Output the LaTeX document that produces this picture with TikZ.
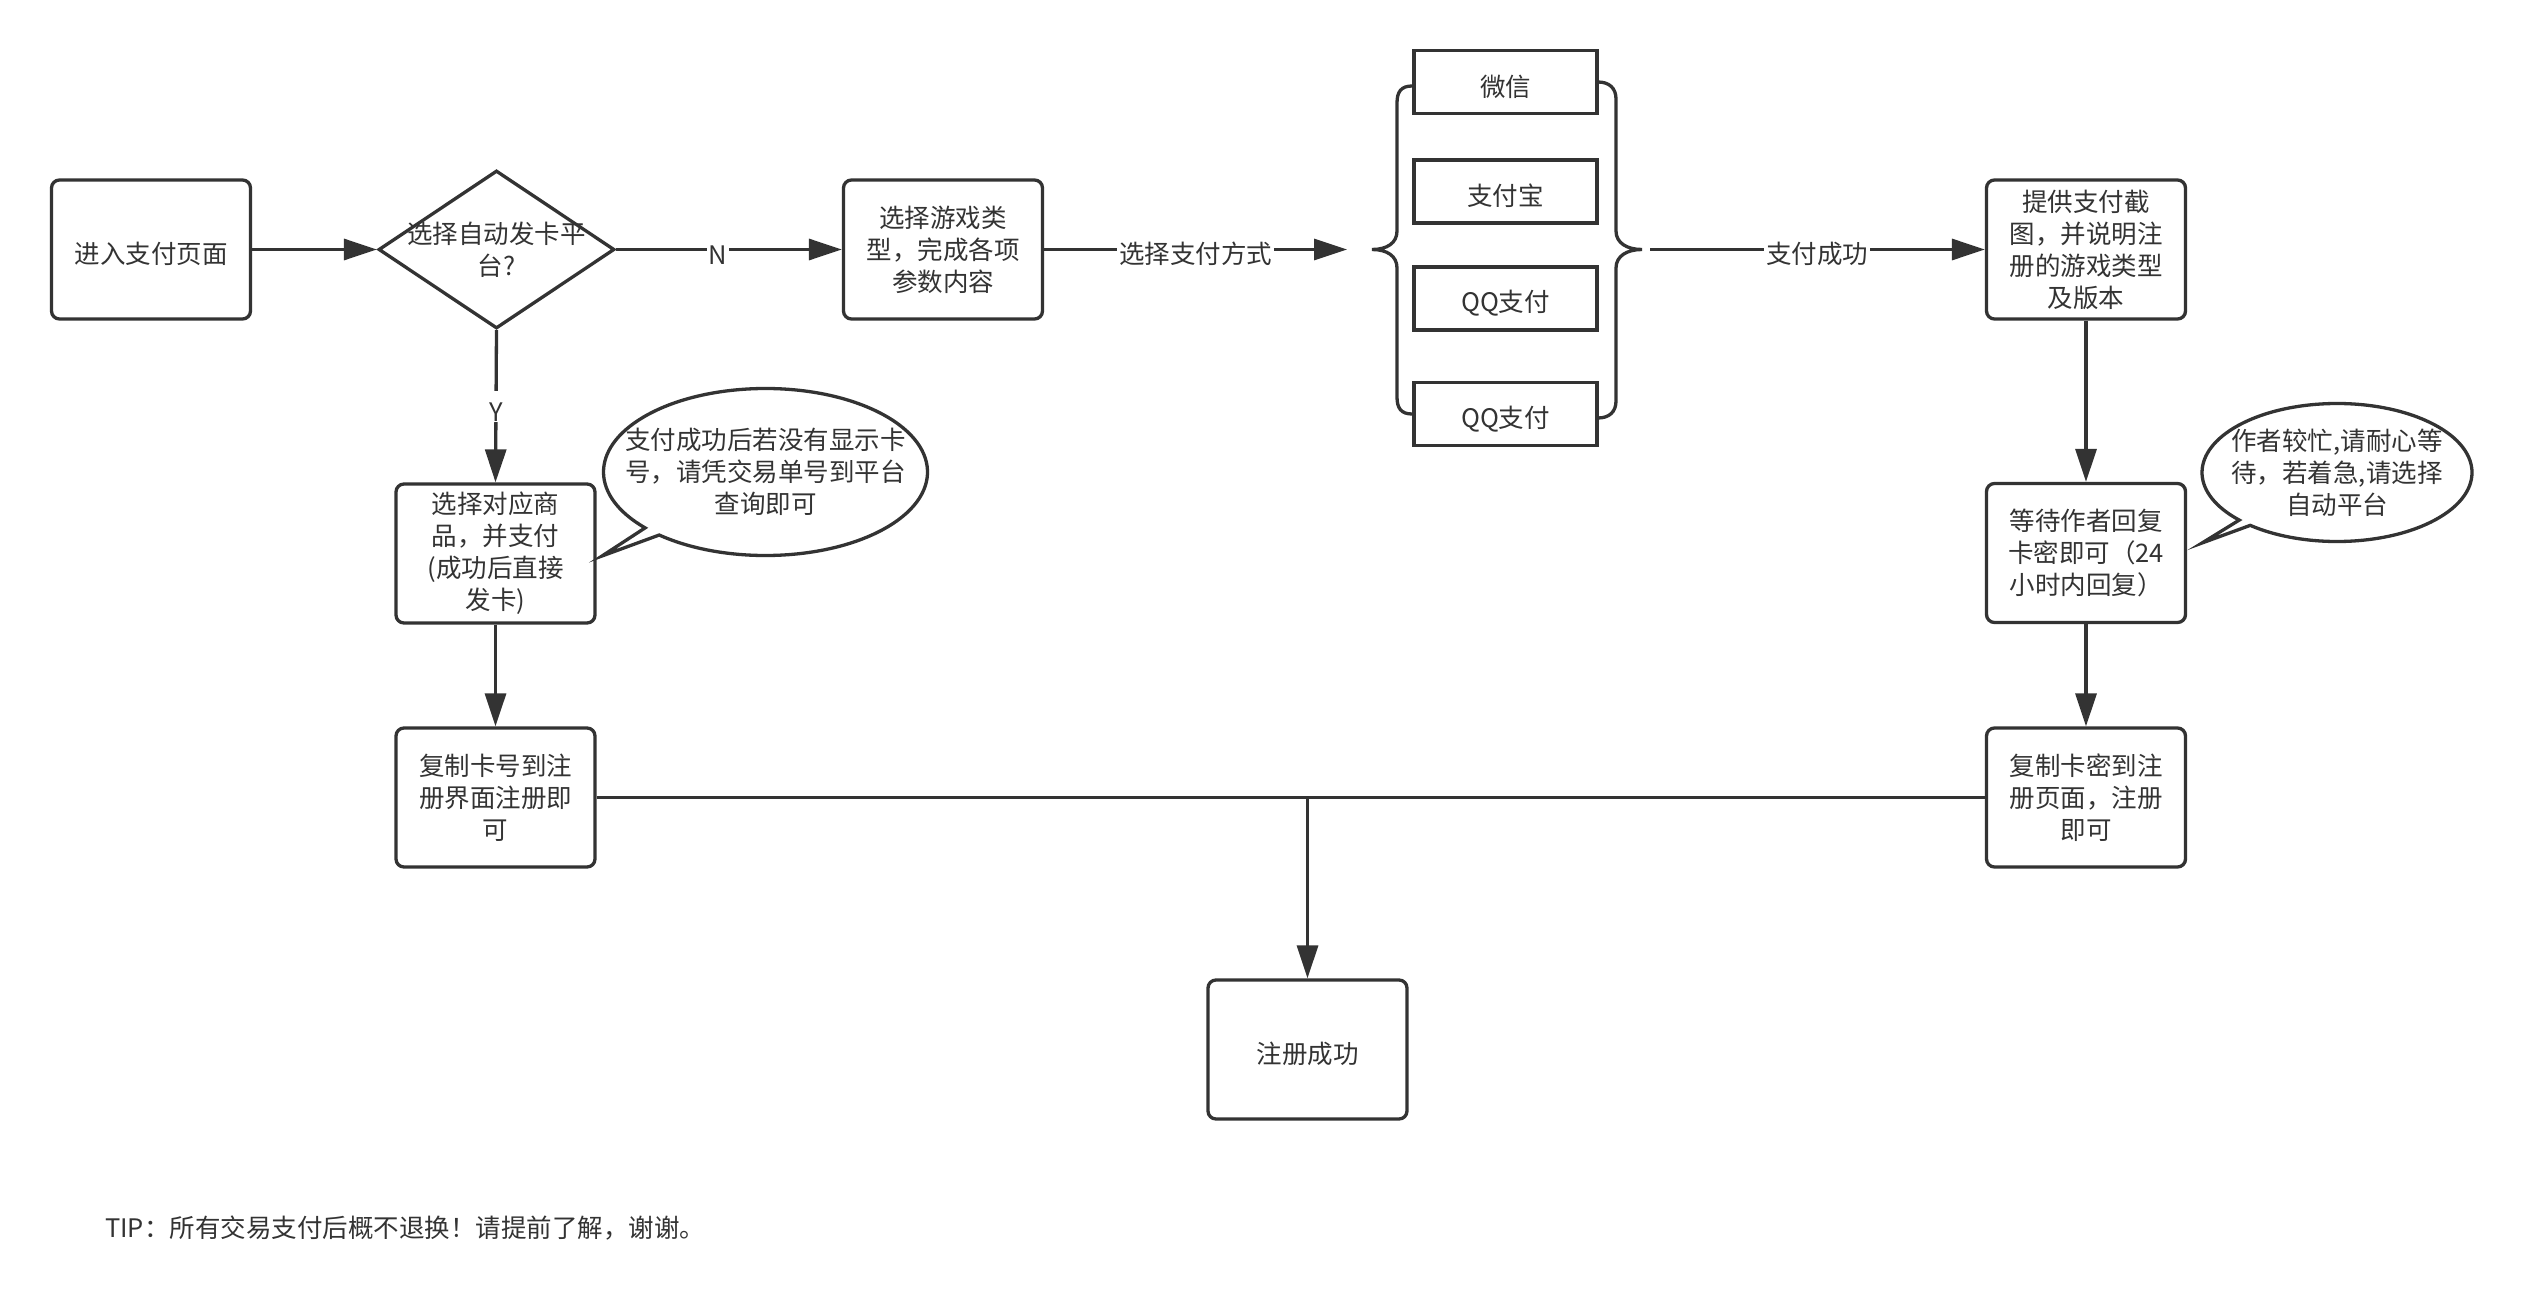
\documentclass[tikz,border=0pt]{standalone}
\usepackage{fontspec}
\setmainfont{Noto Sans CJK SC}
\usetikzlibrary{arrows.meta,shapes.geometric,calc}
\definecolor{ink}{HTML}{333333}
\newcommand\diagfont{\fontsize{25.5}{32}\selectfont}
\begin{document}
\begin{tikzpicture}[x=1pt,y=-1pt,
  every node/.style={text=ink, font=\diagfont, execute at begin node={\rule{0pt}{31pt}}},
  box/.style={draw=ink, line width=3.3pt, rounded corners=8pt, minimum width=199pt, minimum height=139pt, inner sep=0pt, align=center},
  paybox/.style={draw=ink, line width=3.3pt, minimum width=183pt, minimum height=63pt, inner sep=0pt},
  link/.style={draw=ink, line width=3.3pt, -{Triangle[length=33pt,width=21pt]}},
  plain/.style={draw=ink, line width=3.3pt},
  lbl/.style={fill=white, inner xsep=2pt, inner ysep=0pt},
  callout/.style={draw=ink, line width=3.3pt, fill=white, line join=miter},
  bracestyle/.style={draw=ink, line width=3.3pt}
]
\path[use as bounding box, fill=white] (0,0) rectangle (2522,1300);

% main boxes
\node[box] (enter) at (151,249.5) {进入支付页面};
\node[diamond, draw=ink, line width=3.3pt, minimum width=236pt, minimum height=158pt, inner sep=0pt] (auto) at (496.5,249.5) {};
\node[align=center, inner sep=0pt] (autotxt) at (auto.center) {选择自动发卡平\\台?};
\node[box] (game) at (943,249.5) {选择游戏类\\型，完成各项\\参数内容};
\node[box] (pick) at (495.5,553.5) {选择对应商\\品，并支付\\(成功后直接\\发卡)};
\node[box] (copynum) at (495.5,797.5) {复制卡号到注\\册界面注册即\\可};
\node[box] (proof) at (2086,249.5) {提供支付截\\图，并说明注\\册的游戏类型\\及版本};
\node[box] (wait) at (2086,553) {等待作者回复\\卡密即可（24\\小时内回复）};
\node[box] (copykey) at (2086,797.5) {复制卡密到注\\册页面，注册\\即可};
\node[box] (success) at (1307.5,1049.5) {注册成功};

% payment options
\node[paybox] (wx) at (1505.5,82) {微信};
\node[paybox] (zfb) at (1505.5,191.5) {支付宝};
\node[paybox] (qq1) at (1505.5,298.5) {QQ支付};
\node[paybox] (qq2) at (1505.5,414) {QQ支付};

% braces
\draw[bracestyle] (1412,86) .. controls (1401,86) and (1397,92) .. (1397,103) -- (1397,231) .. controls (1397,243) and (1387,249.5) .. (1372,249.5) .. controls (1387,249.5) and (1397,256) .. (1397,268) -- (1397,397) .. controls (1397,408) and (1401,414) .. (1412,414);
\draw[bracestyle] (1598,82) .. controls (1609,82) and (1616,88) .. (1616,99) -- (1616,231) .. controls (1616,243) and (1627,249.5) .. (1642,249.5) .. controls (1627,249.5) and (1616,256) .. (1616,268) -- (1616,401) .. controls (1616,412) and (1609,418) .. (1598,418);

\coordinate (payin) at (1347,249.5);
\coordinate (payout) at (1650,249.5);

% connectors
\draw[link] (enter.east) -- (auto.west);
\draw[link] (auto.east) -- node[lbl, pos=0.45]{N} (game.west);
\draw[link] (auto.south) -- node[lbl]{Y} (pick.north);
\draw[link] (game.east) -- node[lbl]{选择支付方式} (payin);
\draw[link] (payout) -- node[lbl]{支付成功} (proof.west);
\draw[link] (proof.south) -- (wait.north);
\draw[link] (wait.south) -- (copykey.north);
\draw[link] (pick.south) -- (copynum.north);
\draw[plain] (copynum.east) -- (copykey.west);
\coordinate (join) at (success.north |- copynum.east);
\draw[link] (join) -- (success.north);

% callouts
\coordinate (c1) at (765.5,472);
\coordinate (t1) at (602,556);
\draw[callout] ($(c1)+(229:162pt and 83.5pt)$) arc[start angle=229, end angle=582, x radius=162pt, y radius=83.5pt] -- (t1) -- cycle;
\node[align=center, inner sep=0pt] (note1) at (c1) {支付成功后若没有显示卡\\号，请凭交易单号到平台\\查询即可};

\coordinate (c2) at (2337,472.5);
\coordinate (t2) at (2202,543);
\draw[callout] ($(c2)+(230:135pt and 69pt)$) arc[start angle=230, end angle=583.6, x radius=135pt, y radius=69pt] -- (t2) -- cycle;
\node[align=center, inner sep=0pt] (note2) at (c2) {作者较忙,请耐心等\\待，若着急,请选择\\自动平台};

% footer
\node[anchor=west, inner sep=0pt] (tipnote) at (105,1223) {TIP：所有交易支付后概不退换！请提前了解，谢谢。};
\end{tikzpicture}
\end{document}
